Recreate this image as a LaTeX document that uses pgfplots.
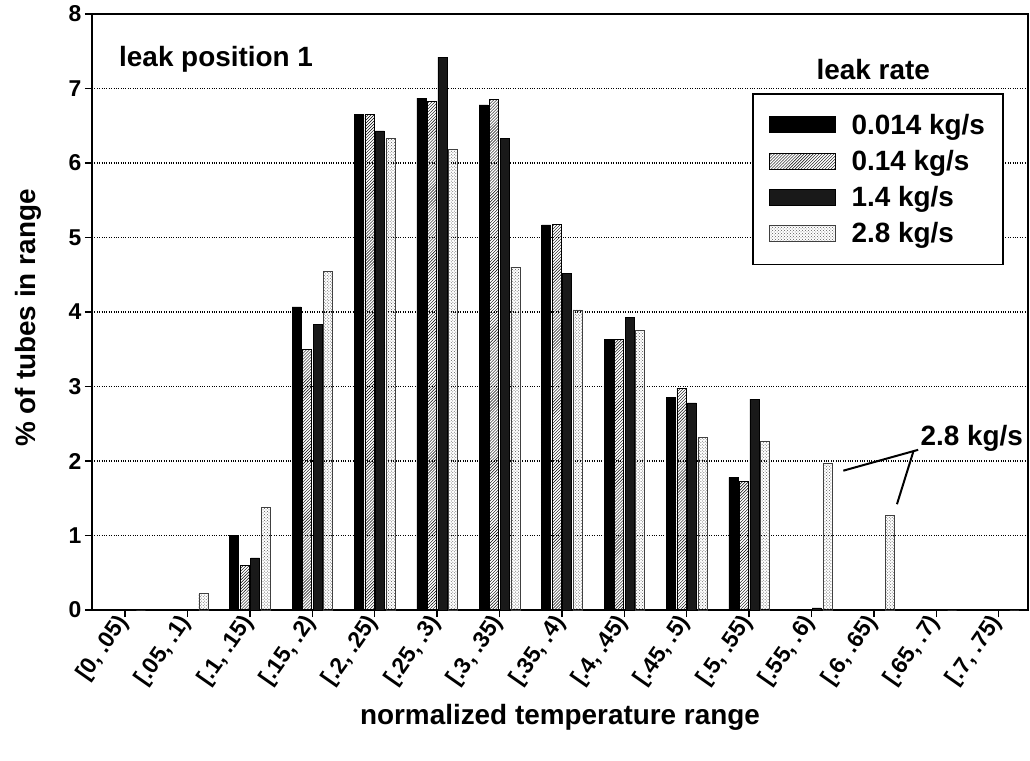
\documentclass[border=0pt]{standalone}
\usepackage{fontspec}
\setmainfont{Liberation Sans}
\usepackage{pgfplots}
\usepackage{pgfplotstable}
\pgfplotsset{compat=1.18}
\usetikzlibrary{patterns}

\pgfplotstableread{
x a b c d
0 0 0 0 0
1 0 0 0 0.22
2 1.00 0.60 0.70 1.38
3 4.07 3.50 3.83 4.55
4 6.65 6.65 6.43 6.33
5 6.87 6.83 7.42 6.18
6 6.78 6.85 6.33 4.60
7 5.17 5.17 4.52 4.03
8 3.63 3.63 3.93 3.76
9 2.85 2.97 2.78 2.32
10 1.78 1.73 2.83 2.27
11 0 0 0.03 1.97
12 0 0 0 1.27
13 0 0 0 0
14 0 0 0 0
}\data

\newcommand{\tfont}{\fontsize{23}{23}\selectfont\bfseries}
\newcommand{\xf}{\fontsize{23}{23}\selectfont\bfseries}
\newcommand{\bfont}{\fontsize{28}{28}\selectfont\bfseries}

\begin{document}
\begin{tikzpicture}
\begin{axis}[
  scale only axis, width=936bp, height=596bp,
  xmin=-0.53, xmax=14.47, ymin=0, ymax=8,
  ybar=1.5bp, bar width=9bp,
  xtick={0,...,14},
  xticklabels={{\xf[0, .05)},{\xf[.05, .1)},{\xf[.1, .15)},{\xf[.15, .2)},{\xf[.2, .25)},{\xf[.25, .3)},{\xf[.3, .35)},{\xf[.35, .4)},{\xf[.4, .45)},{\xf[.45, .5)},{\xf[.5, .55)},{\xf[.55, .6)},{\xf[.6, .65)},{\xf[.65, .7)},{\xf[.7, .75)}},
  xticklabel style={rotate=55, anchor=east, inner sep=2bp},
  ytick={0,...,8},
  yticklabel={\tfont\pgfmathprintnumber{\tick}},
  /pgf/number format/assume math mode=true,
  ymajorgrids, grid style={dotted, black, line width=1.3bp},
  axis line style={line width=2bp},
  tick style={black, line width=1.5bp}, major tick length=7bp,
  tick align=outside, xtick pos=bottom, ytick pos=left,
  xlabel={normalized temperature range},
  ylabel={\% of tubes in range},
  label style={font=\bfont},
  xlabel style={at={(axis description cs:0.5,0)}, anchor=center, yshift=-107bp},
  ylabel style={at={(axis description cs:-0.0684,0.49)}, anchor=center},
  legend style={at={(0.974,0.867)}, anchor=north east, draw=black, line width=1.5bp,
    font=\bfont, row sep=10.5bp, inner xsep=16bp, inner ysep=18bp,
    /tikz/every odd column/.append style={column sep=14bp},
    /tikz/every even column/.append style={column sep=10bp}},
  legend cell align=left,
  every axis plot post/.append style={legend image code/.code={\draw[#1, line width=0.8bp] (0bp,-8bp) rectangle (66bp,8bp);}},
  clip=false,
]
\addplot[draw=black, fill=black] table[x=x, y=a] {\data};
\addplot[draw=black, line width=0.8bp, pattern=north east lines] table[x=x, y=b] {\data};
\addplot[draw=black, fill=black!90] table[x=x, y=c] {\data};
\addplot[draw=black!75, pattern=crosshatch dots, pattern color=black!65] table[x=x, y=d] {\data};
\legend{0.014 kg/s, 0.14 kg/s, 1.4 kg/s, 2.8 kg/s}
\node[anchor=west, font=\bfont] at (axis cs:-0.15,7.39) {leak position 1};
\node[font=\bfont] at (axis cs:11.99,7.25) {leak rate};
\node[font=\bfont] at (axis cs:13.57,2.31) {2.8 kg/s};
\draw[line width=2bp] (axis cs:12.71,2.15) -- (axis cs:11.51,1.87);
\draw[line width=2bp] (axis cs:12.63,2.12) -- (axis cs:12.37,1.42);
\coordinate (SW) at (rel axis cs:0,0);
\end{axis}
\pgfresetboundingbox
\path[use as bounding box] (SW) ++(-92bp,-151bp) rectangle ++(1030bp,761bp);
\end{tikzpicture}
\end{document}
